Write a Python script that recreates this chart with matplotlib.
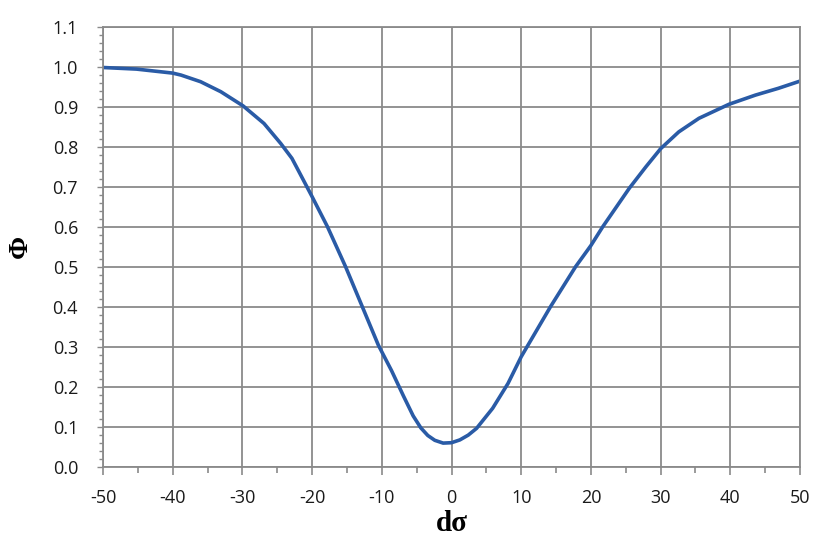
import numpy as np
import matplotlib
matplotlib.use("Agg")
import matplotlib.pyplot as plt
from matplotlib.ticker import MultipleLocator

plt.rcParams["axes.unicode_minus"] = False

# values
d_sigma = [-50, -45.2, -40, -38.8, -36, -33.1, -29.9, -26.9, -24.5, -22.9, -21.9,
           -20, -17.8, -15.2, -12.8, -10.5, -8.6, -6.9, -5.5, -4.4, -3.4, -2.4, -1.2,
           0, 1.2, 2.4, 3.6, 5.9, 8.1, 10, 14.2, 17.8, 20, 21.7, 25.5, 27.9, 30, 32.6,
           35.5, 39.8, 43.6, 46.9, 50]
phi = [0.998, 0.994, 0.984, 0.979, 0.9625, 0.9375, 0.902, 0.858, 0.808, 0.771, 0.738,
       0.675, 0.6, 0.5, 0.4, 0.304, 0.24, 0.177, 0.127, 0.097, 0.078, 0.066, 0.059,
       0.06, 0.067, 0.079, 0.096, 0.146, 0.208, 0.275, 0.4, 0.5, 0.553, 0.6, 0.696,
       0.75, 0.795, 0.837, 0.871, 0.906, 0.929, 0.946, 0.964]

x_ticks = np.arange(-50, 51, 10)
y_ticks = np.round(np.arange(0, 1.11, 0.1), 1)

fig = plt.figure(figsize=(8.3, 5.55), dpi=100)
ax = fig.add_axes([0.1241, 0.1591, 0.8398, 0.7928])

ax.plot(d_sigma, phi, color="#2a5ba6", lw=2.6, solid_capstyle="round",
        solid_joinstyle="round")

ax.set_xlim(-50, 50)
ax.set_ylim(0, 1.1)
ax.set_xticks(x_ticks)
ax.set_yticks(y_ticks)
ax.set_yticklabels([f"{v:.1f}" for v in y_ticks])
ax.xaxis.set_minor_locator(MultipleLocator(5))
ax.yaxis.set_minor_locator(MultipleLocator(0.02))

grid_col = "#8a8a8a"
ax.grid(True, which="major", color=grid_col, lw=1.3)
for s in ax.spines.values():
    s.set_color(grid_col)
    s.set_linewidth(1.3)

ax.tick_params(axis="both", which="both", direction="out", color=grid_col,
               labelsize=13, labelcolor="#1a1a1a")
ax.tick_params(axis="x", which="major", length=6, width=1.2, pad=10)
ax.tick_params(axis="x", which="minor", length=4, width=1.2)
ax.tick_params(axis="y", which="major", length=4, width=1.0, pad=14)
ax.tick_params(axis="y", which="minor", length=3, width=1.0)
for lab in ax.get_xticklabels() + ax.get_yticklabels():
    lab.set_family("Open Sans")

ax.set_xlabel("dσ", fontsize=21, fontweight="bold", family="Liberation Serif", labelpad=2)
ax.set_ylabel("Φ", fontsize=20, fontweight="bold", family="Liberation Serif", labelpad=14)

fig.savefig("out.png", dpi=100)
